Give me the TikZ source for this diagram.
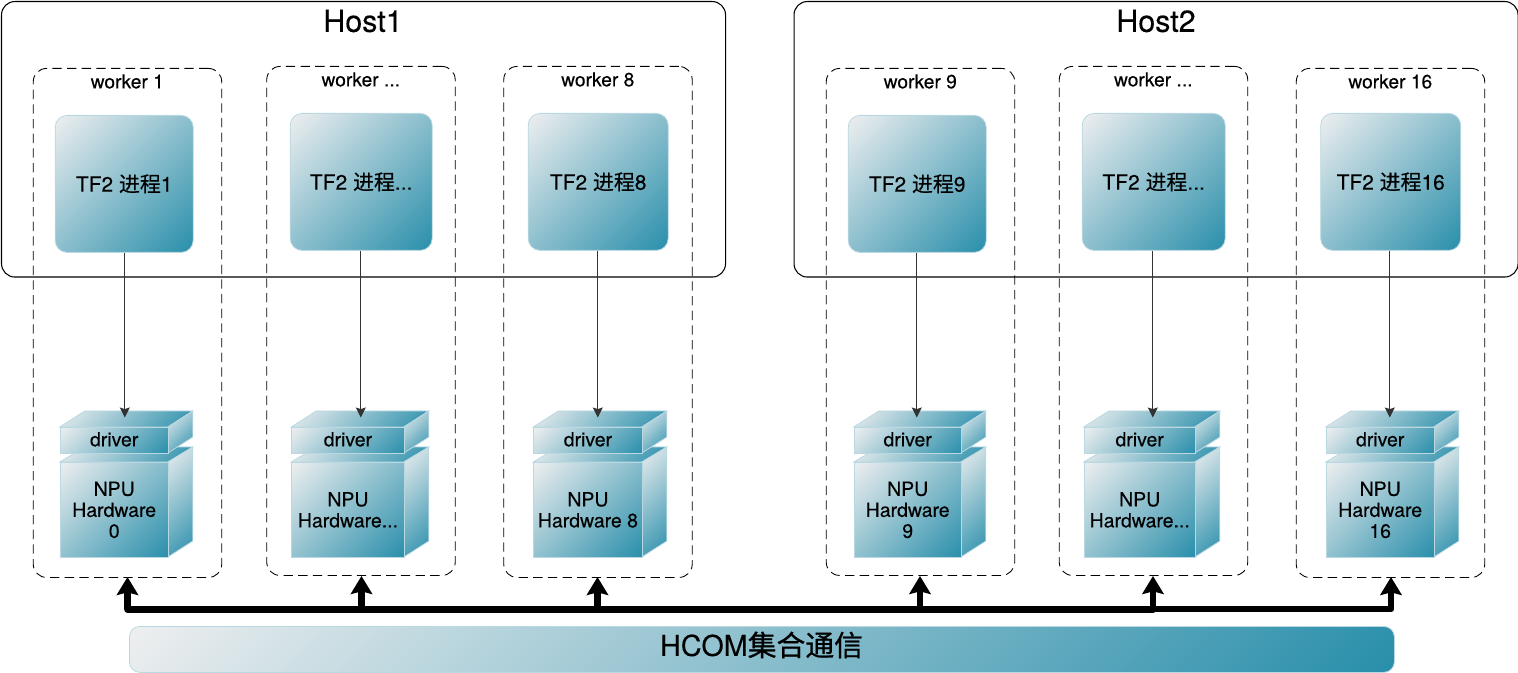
\documentclass[tikz,border=0pt]{standalone}
\usepackage{fontspec}
\setmainfont[FakeBold=0.2]{TeX Gyre Heros}
\newfontfamily\cjk[FakeBold=0.3]{Noto Sans CJK SC}
\newfontfamily\cjkb[FakeBold=0.8]{Noto Sans CJK SC}
\usetikzlibrary{arrows.meta,calc}
\definecolor{gl}{HTML}{ECEEEF}
\definecolor{gd}{HTML}{2A8FAB}
\definecolor{ge}{HTML}{B9D8E2}
\pgfdeclareverticalshading{diagfill}{100bp}{color(0bp)=(gd); color(15bp)=(gd); color(85bp)=(gl); color(100bp)=(gl)}
\tikzset{
  gradbox/.style={shading=diagfill,shading angle=45,draw=ge,line width=.6pt},
  hostbox/.style={draw=black,line width=.8pt,rounded corners=10pt,inner sep=0pt,anchor=north west},
  workerbox/.style={draw=black,line width=.65pt,dash pattern=on 7pt off 4pt,rounded corners=10pt,inner sep=0pt,anchor=north west},
  procbox/.style={gradbox,rounded corners=9pt,inner sep=0pt,anchor=north west,font=\fontsize{15.7pt}{18pt}\selectfont},
  frontbox/.style={gradbox,inner sep=0pt,anchor=north west,font=\fontsize{14.6pt}{15.8pt}\selectfont,align=center},
  worklabel/.style={font=\fontsize{14.4pt}{16pt}\selectfont,inner sep=0pt},
  hostlabel/.style={font=\fontsize{22.8pt}{24pt}\selectfont,inner sep=0pt},
  thinarrow/.style={draw=black!80,line width=.75pt,-{Stealth[length=7.5pt,width=7.5pt,inset=1.2pt]}},
  busarrow/.style={draw=black,line width=4.8pt,line join=round,-{Stealth[length=13.5pt,width=16pt,inset=2pt]}},
  busline/.style={draw=black,line width=5pt,line join=round,line cap=round},
  buslineb/.style={draw=black,line width=4.6pt,line join=round,line cap=round},
  barbox/.style={gradbox,rounded corners=8pt,inner sep=0pt,anchor=north west},
}
\begin{document}
\begin{tikzpicture}[x=.75pt,y=-.75pt]
\useasboundingbox (0,0) rectangle (1518,673);
% hosts
\node[hostbox,minimum width=724*.75pt,minimum height=275.5*.75pt] (host1) at (1,1) {};
\node[hostbox,minimum width=724*.75pt,minimum height=275.5*.75pt] (host2) at (793.5,1) {};
\node[hostlabel] (host1t) at (363,21) {Host1};
\node[hostlabel] (host2t) at (1156,21) {Host2};
% columns
\begin{scope}[xshift=-.15pt]
\foreach \id/\wx/\wy/\wb/\px/\py/\pw/\ph/\cx/\cw/\ax/\wt/\ptx/\nt in {
  a/33/68/577/55/115/138/137/60/108/125/{worker 1}/{1}/{NPU\\Hardware\\0},
  b/266.5/66/575/290/113/142/137/291.5/112.5/361/{worker ...}/{...}/{NPU\\Hardware...},
  c/503.5/66/577/528/113/140/137/533.5/108.5/598/{worker 8}/{8}/{NPU\\Hardware 8},
  d/826/68/575/848/115/138/137/854/107/917/{worker 9}/{9}/{NPU\\Hardware\\9},
  e/1059/66/575/1082/113/143/137/1084/111/1153/{worker ...}/{...}/{NPU\\Hardware...},
  f/1296/68/577/1320.5/113/140/137/1326/108/1390/{worker 16}/{16}/{NPU\\Hardware\\16}}
{
  \pgfmathsetmacro{\wh}{\wb-\wy}
  \node[workerbox,minimum width=188.5*.75pt,minimum height=\wh*.75pt] (w\id) at (\wx,\wy) {};
  \node[worklabel] (wl\id) at ($(\wx+94.5,\wy+13.5)$) {\wt};
  \node[procbox,minimum width=\pw*.75pt,minimum height=\ph*.75pt] (p\id) at (\px,\py) {TF2 {\cjk 进程}\ptx};
  % NPU cube
  \pgfmathsetmacro{\frx}{\cx+\cw}
  \pgfmathsetmacro{\fry}{\frx+25}
  \pgfmathsetmacro{\ctl}{\cx+25}
  \shade[gradbox] (\cx,462) -- (\ctl,447) -- (\fry,447) -- (\frx,462) -- cycle;
  \shade[gradbox] (\frx,462) -- (\fry,447) -- (\fry,541) -- (\frx,557) -- cycle;
  \node[frontbox,minimum width=\cw*.75pt,minimum height=95*.75pt] (n\id) at (\cx,462) {\nt};
  % driver cube
  \shade[gradbox] (\cx,427) -- (\ctl,411) -- (\fry,411) -- (\frx,427) -- cycle;
  \shade[gradbox] (\frx,427) -- (\fry,411) -- (\fry,437) -- (\frx,453) -- cycle;
  \node[frontbox,minimum width=\cw*.75pt,minimum height=26*.75pt] (d\id) at (\cx,427) {\raisebox{.75pt}[\height][\depth]{driver}};
  \coordinate (dt\id) at (\ax,417.5);
  \coordinate (pb\id) at (\ax,252);
  \draw[thinarrow] (p\id.south -| pb\id) -- (dt\id);
}
\end{scope}
% bus
\coordinate (busl) at (127.5,609.3);
\coordinate (busr) at (1391,609.3);
\coordinate (tb) at (361.5,576);
\coordinate (tc) at (597.5,577);
\coordinate (td) at (920,576);
\coordinate (te) at (1153,576);
\draw[busline] (busl) -- (te |- busl);
\draw[buslineb] (te |- busl) -- (busr);
\draw[busarrow] (busl) -- (127.5,577) coordinate (ta);
\draw[busarrow] (tb |- busl) -- (tb);
\draw[busarrow] (tc |- busl) -- (tc);
\draw[busarrow] (td |- busl) -- (td);
\draw[busarrow] (te |- busl) -- (te);
\draw[busarrow] (busr) -- (1391,577);
% bar
\node[barbox,minimum width=1265*.75pt,minimum height=46*.75pt] (bar) at (129,626) {};
\node[inner sep=0pt,font=\fontsize{21.6pt}{24pt}\selectfont] (bart) at (761.5,645) {HCOM{\cjkb 集合通信}};
\end{tikzpicture}
\end{document}
